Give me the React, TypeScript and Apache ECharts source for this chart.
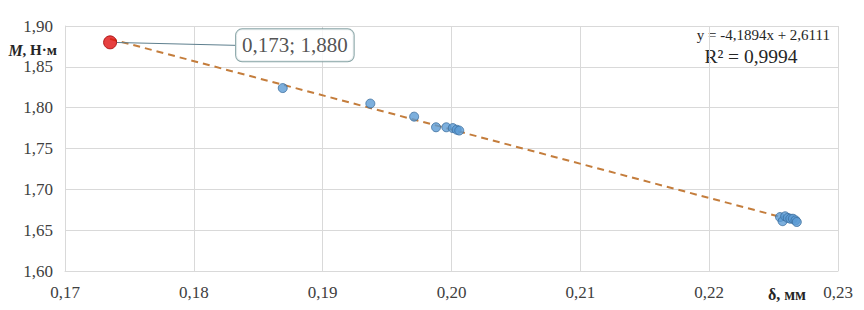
import React, { useEffect, useRef } from "react";
import * as echarts from "echarts";

const xTicksMin = 0.17;
const xTicksMax = 0.23;
const yTicksMin = 1.6;
const yTicksMax = 1.9;

const blueX = [0.1869, 0.1937, 0.1971, 0.1988, 0.1996, 0.2001, 0.2004, 0.2006, 0.2255, 0.2257, 0.2259, 0.2261, 0.2263, 0.2265, 0.2267, 0.2268];
const blueY = [1.824, 1.805, 1.789, 1.776, 1.776, 1.775, 1.773, 1.772, 1.666, 1.661, 1.667, 1.665, 1.664, 1.664, 1.662, 1.660];

const redX = [0.1735];
const redY = [1.88];
const redLabel = "0,173; 1,880";

const slope = -4.1894;
const intercept = 2.6111;
const r2Text = "R² = 0,9994";
const eqText = "y = -4,1894x + 2,6111";

const fmt = (v: number) => v.toFixed(2).replace(".", ",");

export default function App() {
  const ref = useRef<HTMLDivElement>(null);
  useEffect(() => {
    if (!ref.current) return;
    const chart = echarts.init(ref.current, undefined, { renderer: "svg" });
    const xs = [...blueX, ...redX];
    const xMinD = Math.min(...xs);
    const xMaxD = Math.max(...xs);
    const trend = [
      [xMinD, slope * xMinD + intercept],
      [xMaxD, slope * xMaxD + intercept],
    ];
    const serif = "'Liberation Serif', 'Times New Roman', serif";
    chart.setOption({
      animation: false,
      backgroundColor: "#ffffff",
      textStyle: { fontFamily: serif },
      grid: { left: 65, right: 26, top: 26, bottom: 39, containLabel: false },
      xAxis: {
        type: "value",
        min: xTicksMin,
        max: xTicksMax,
        interval: 0.01,
        axisLine: { show: true, lineStyle: { color: "#d9d9d9" } },
        axisTick: { show: false },
        splitLine: { show: true, lineStyle: { color: "#d9d9d9" } },
        axisLabel: { formatter: fmt, color: "#404040", fontSize: 17, fontFamily: serif, margin: 13 },
      },
      yAxis: {
        type: "value",
        min: yTicksMin,
        max: yTicksMax,
        interval: 0.05,
        axisLine: { show: true, lineStyle: { color: "#d9d9d9" } },
        axisTick: { show: false },
        splitLine: { show: true, lineStyle: { color: "#d9d9d9" } },
        axisLabel: { formatter: fmt, color: "#404040", fontSize: 17, fontFamily: serif, margin: 12 },
      },
      graphic: [
        {
          type: "rect",
          z: -10,
          shape: { x: 1.5, y: 1.5, width: 860, height: 305 },
          style: { fill: "none", stroke: "#d9d9d9", lineWidth: 1 },
        },
        {
          type: "text",
          x: 57,
          y: 50,
          style: {
            text: "{i|M}{b|, Н·м}",
            align: "right",
            verticalAlign: "middle",
            rich: {
              i: { fontFamily: serif, fontSize: 16, fontWeight: "bold", fontStyle: "italic", fill: "#262626" },
              b: { fontFamily: serif, fontSize: 15, fontWeight: "bold", fill: "#262626" },
            },
          },
        },
        {
          type: "text",
          x: 806,
          y: 294,
          style: {
            text: "δ, мм",
            align: "right",
            verticalAlign: "middle",
            fontFamily: serif,
            fontSize: 16,
            fontWeight: "bold",
            fill: "#262626",
          },
        },
        {
          type: "text",
          x: 830,
          y: 35,
          style: {
            text: eqText,
            align: "right",
            verticalAlign: "middle",
            fontFamily: serif,
            fontSize: 15,
            fill: "#262626",
          },
        },
        {
          type: "text",
          x: 751,
          y: 56,
          style: {
            text: r2Text,
            align: "center",
            verticalAlign: "middle",
            fontFamily: serif,
            fontSize: 19.5,
            fill: "#262626",
          },
        },
      ],
      series: [
        {
          type: "line",
          data: trend,
          symbol: "none",
          lineStyle: { color: "#c47d3c", width: 2, type: [7, 5] },
          z: 1,
          silent: true,
        },
        {
          type: "scatter",
          data: blueX.map((x, i) => [x, blueY[i]]),
          symbolSize: 9,
          itemStyle: { color: "#5b9bd5", borderColor: "#3c6e9e", borderWidth: 1 },
          z: 3,
        },
        {
          type: "scatter",
          data: redX.map((x, i) => [x, redY[i]]),
          symbolSize: 13,
          itemStyle: { color: "#e01010", borderColor: "#a00000", borderWidth: 1 },
          z: 4,
          label: {
            show: true,
            formatter: () => redLabel,
            position: "right",
            distance: 5,
            fontFamily: serif,
            fontSize: 21,
            color: "#262626",
            backgroundColor: "#ffffff",
            borderColor: "#6b8f91",
            borderWidth: 1,
            borderRadius: 6,
            padding: [6, 6, 5, 6],
          },
          labelLayout: { dx: 114, dy: 3 },
          labelLine: { show: true, lineStyle: { color: "#5e7f8e", width: 1 } },
        },
      ],
    });
    return () => chart.dispose();
  }, []);
  return <div ref={ref} style={{ width: 864, height: 310, margin: -8 }} />;
}
